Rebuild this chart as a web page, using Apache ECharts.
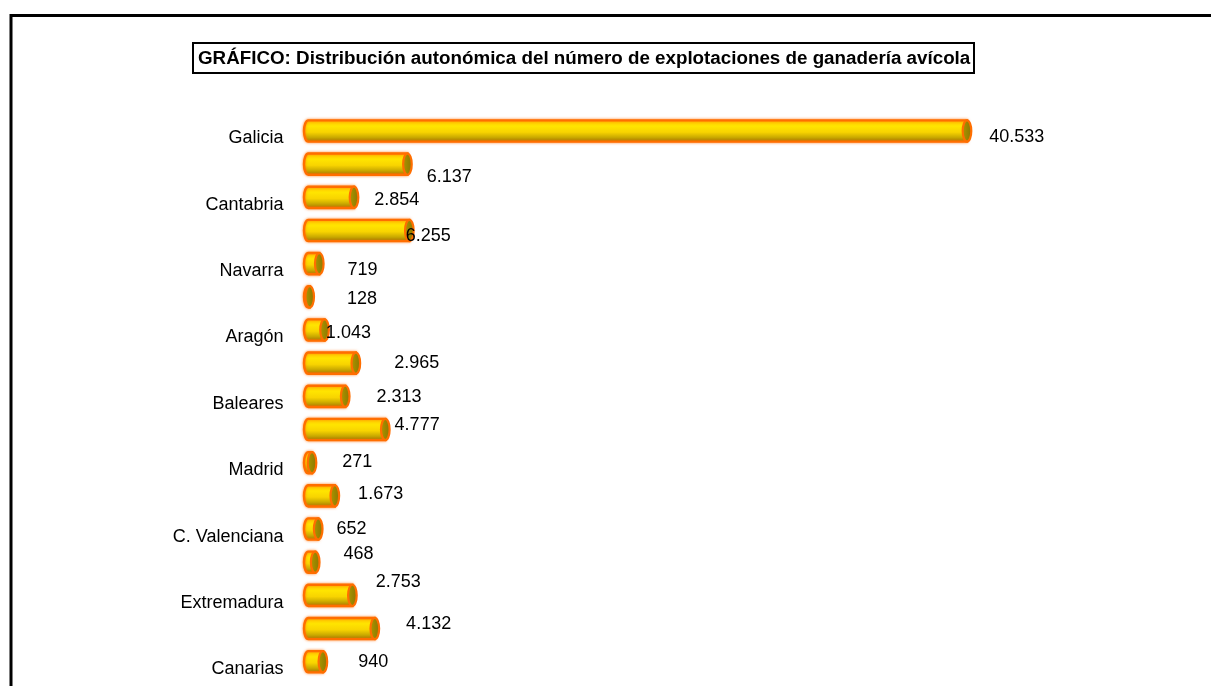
<!DOCTYPE html>
<html>
<head>
<meta charset="utf-8">
<script src="https://cdn.jsdelivr.net/npm/echarts@6/dist/echarts.min.js"></script>
<style>
html,body{margin:0;padding:0;background:#fff;}
#chart{width:1211px;height:686px;}
</style>
</head>
<body>
<div id="chart"></div>
<script>
const titleText = 'GRÁFICO: Distribución autonómica del número de explotaciones de ganadería avícola';
const categories = ['Galicia','Asturias','Cantabria','País Vasco','Navarra','La Rioja','Aragón','Cataluña','Baleares','Castilla y León','Madrid','Castilla-La Mancha','C. Valenciana','Murcia','Extremadura','Andalucía','Canarias'];
const values = [40533,6137,2854,6255,719,128,1043,2965,2313,4777,271,1673,652,468,2753,4132,940];
// label placement tweaks (pixels), as in the original chart
const labelShiftX = [18,15,16,-8,24,33,-3,34,27,5,26,19,14,24,19,27,31];
const labelShiftY = [6,13,3,6,6,2,3,0,1,-4,-1,-2,0,-8,-13,-5,0];

const FONT = '"Liberation Sans", Arial, sans-serif';
function fmt(v){ return String(v).replace(/\B(?=(\d{3})+(?!\d))/g, '.'); }

const chart = echarts.init(document.getElementById('chart'));
const RX = 4.3;

chart.setOption({
  animation: false,
  backgroundColor: '#fff',
  title: {
    text: titleText,
    left: 193, top: 43,
    padding: [6, 4, 5, 5],
    borderColor: '#000', borderWidth: 2,
    textStyle: { fontFamily: FONT, fontSize: 18.8, fontWeight: 'bold', color: '#000', lineHeight: 19 }
  },
  graphic: [{
    type: 'rect', left: 8.5, top: 13, silent: true, z: 100,
    shape: { x: 0, y: 0, width: 1400, height: 900 },
    style: { fill: 'none', stroke: '#000', lineWidth: 3 }
  }],
  grid: { left: 307.6, right: 90, top: 114.4, bottom: 7.7, containLabel: false },
  xAxis: { type: 'value', min: 0, max: 50000, show: false },
  yAxis: {
    type: 'category', data: categories, inverse: true,
    axisLine: { show: false }, axisTick: { show: false }, splitLine: { show: false },
    axisLabel: { interval: 1, margin: 24, color: '#000', fontFamily: FONT, fontSize: 18,
      verticalAlign: 'top', lineHeight: 15 }
  },
  series: [{
    type: 'custom',
    data: values.map((v, i) => [v, i]),
    encode: { x: 0, y: 1 },
    renderItem: function (params, api) {
      const v = api.value(0), i = api.value(1);
      const p0 = api.coord([0, i]);
      const p1 = api.coord([v, i]);
      const h = api.size([0, 1])[1] * 0.64;
      const ry = h / 2, cy = p0[1];
      const left = p0[0] - 3.6;
      const cx = Math.max(p1[0], left + RX);
      const top = cy - ry, bot = cy + ry;
      const body = 'M ' + (left + RX) + ' ' + top + ' L ' + cx + ' ' + top + ' L ' + cx + ' ' + bot +
        ' L ' + (left + RX) + ' ' + bot + ' A ' + RX + ' ' + ry + ' 0 0 1 ' + (left + RX) + ' ' + top + ' Z';
      const cap = 'M ' + (cx - RX) + ' ' + cy + ' A ' + RX + ' ' + ry + ' 0 1 0 ' + (cx + RX) + ' ' + cy +
        ' A ' + RX + ' ' + ry + ' 0 1 0 ' + (cx - RX) + ' ' + cy + ' Z';
      const idx = params.dataIndex;
      return {
        type: 'group',
        children: [
          { type: 'path', shape: { pathData: body },
            style: {
              fill: { type: 'linear', x: 0, y: 0, x2: 0, y2: 1, colorStops: [
                { offset: 0, color: '#FFC400' }, { offset: 0.3, color: '#FFE400' },
                { offset: 0.55, color: '#F8D400' }, { offset: 0.78, color: '#C8A800' },
                { offset: 1, color: '#857200' } ] },
              stroke: '#FF6E00', lineWidth: 2.4, shadowBlur: 3, shadowColor: 'rgba(255,110,0,0.7)'
            } },
          { type: 'path', shape: { pathData: cap },
            style: {
              fill: { type: 'linear', x: 0, y: 0, x2: 1, y2: 0, colorStops: [
                { offset: 0, color: '#B09A00' }, { offset: 0.5, color: '#9A8600' }, { offset: 1, color: '#8A7600' } ] },
              stroke: '#FF6E00', lineWidth: 2.2
            } },
          { type: 'text', z2: 50,
            style: {
              x: cx + RX + labelShiftX[idx], y: cy + labelShiftY[idx],
              text: fmt(v), fill: '#000', font: '18px ' + FONT,
              align: 'left', verticalAlign: 'middle'
            } }
        ]
      };
    }
  }]
});
</script>
</body>
</html>
